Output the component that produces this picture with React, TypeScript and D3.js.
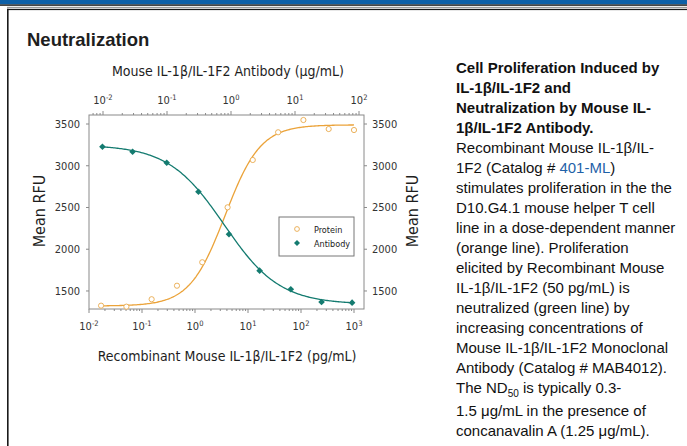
import { useRef, useEffect } from 'react';
import * as d3 from 'd3';

// Protein dose response (bottom axis, pg/mL)
const proteinConc = [0.0169, 0.0508, 0.152, 0.457, 1.37, 4.12, 12.3, 37.0, 111, 333, 1000];
const proteinRfu = [1324, 1312, 1401, 1563, 1844, 2502, 3069, 3401, 3548, 3440, 3428];
// Antibody neutralization (top axis, ug/mL)
const antibodyConc = [0.0098, 0.029, 0.099, 0.31, 0.93, 2.8, 8.6, 26, 78];
const antibodyRfu = [3228, 3168, 3036, 2689, 2179, 1743, 1520, 1368, 1360];

// 4PL fit
const proteinFit = { bottom: 1320, top: 3490, ec50: 3.7, hill: 1.3 };
const antibodyFit = { bottom: 1340, top: 3250, ec50: 0.78, hill: 1.0 };

const yTicks = [1500, 2000, 2500, 3000, 3500];
const topDecades = [-2, -1, 0, 1, 2];
const bottomDecades = [-2, -1, 0, 1, 2, 3];
const legendItems = ['Protein', 'Antibody'];

type Seg = [string, 'b' | 'n' | 'a' | 's'];
const captionLines: Seg[][] = [
  [['Cell Proliferation Induced by', 'b']],
  [['IL-1β/IL-1F2 and', 'b']],
  [['Neutralization by Mouse IL-', 'b']],
  [['1β/IL-1F2 Antibody.', 'b']],
  [['Recombinant Mouse IL-1β/IL-', 'n']],
  [['1F2 (Catalog # ', 'n'], ['401-ML', 'a'], [')', 'n']],
  [['stimulates proliferation in the the', 'n']],
  [['D10.G4.1 mouse helper T cell', 'n']],
  [['line in a dose-dependent manner', 'n']],
  [['(orange line). Proliferation', 'n']],
  [['elicited by Recombinant Mouse', 'n']],
  [['IL-1β/IL-1F2 (50 pg/mL) is', 'n']],
  [['neutralized (green line) by', 'n']],
  [['increasing concentrations of', 'n']],
  [['Mouse IL-1β/IL-1F2 Monoclonal', 'n']],
  [['Antibody (Catalog # MAB4012).', 'n']],
  [['The ND', 'n'], ['50', 's'], [' is typically 0.3-', 'n']],
  [['1.5 μg/mL in the presence of', 'n']],
  [['concanavalin A (1.25 μg/mL).', 'n']],
];

const chartFont = '"DejaVu Sans Condensed", "Liberation Sans Narrow", sans-serif';
const textFont = '"Liberation Sans", Arial, sans-serif';
const orange = '#eba33a';
const green = '#147b70';
const axisGray = '#8a8a8a';

const fourPL = (p: { bottom: number; top: number; ec50: number; hill: number }, rising: boolean) => (x: number) => {
  const r = Math.pow(x / p.ec50, p.hill);
  return rising ? p.bottom + (p.top - p.bottom) * r / (1 + r) : p.bottom + (p.top - p.bottom) / (1 + r);
};

export default function App() {
  const svgRef = useRef<SVGSVGElement>(null);

  useEffect(() => {
    if (!svgRef.current) return;
    const svg = d3.select(svgRef.current);
    svg.selectAll('*').remove();

    const W = 687, H = 446;
    const box = { left: 89, right: 364, top: 115, bottom: 309 };

    // Page frame
    svg.append('rect').attr('width', W).attr('height', H).attr('fill', '#fff');
    svg.append('rect').attr('x', 0).attr('y', 0).attr('width', W).attr('height', 4.4).attr('fill', '#0d60a8');
    svg.append('rect').attr('x', 0).attr('y', 4.4).attr('width', W).attr('height', 1.4).attr('fill', '#1a1a1a');
    svg.append('rect').attr('x', 7).attr('y', 6.8).attr('width', W).attr('height', 1.2).attr('fill', '#9a9a9a');
    svg.append('rect').attr('x', 7).attr('y', 8.8).attr('width', W).attr('height', 1.3).attr('fill', '#1a1a1a');
    svg.append('rect').attr('x', 7).attr('y', 8.8).attr('width', 1.6).attr('height', H).attr('fill', '#1a1a1a');

    svg.append('text')
      .attr('x', 27).attr('y', 46)
      .style('font-family', textFont).style('font-weight', 'bold').style('font-size', '18.5px')
      .attr('fill', '#1e1e1e')
      .text('Neutralization');

    // Scales
    const xBottom = d3.scaleLog().domain([0.01, Math.pow(10, 3 + 10 / 53)]).range([box.left, box.right]);
    const xTop = d3.scaleLog().domain([Math.pow(10, -2 - 14 / 64), Math.pow(10, 2 + 5 / 64)]).range([box.left, box.right]);
    const y = d3.scaleLinear().domain([1284, 3608]).range([box.bottom, box.top]);

    const g = svg.append('g');

    // Box
    g.append('rect')
      .attr('x', box.left).attr('y', box.top)
      .attr('width', box.right - box.left).attr('height', box.bottom - box.top)
      .attr('fill', 'none').attr('stroke', axisGray).attr('stroke-width', 1);

    const isMajor = (t: number) => Math.abs(Math.log10(t) - Math.round(Math.log10(t))) < 1e-6;

    // Log axis ticks
    xTop.ticks().forEach(t => {
      const len = isMajor(t) ? 4 : 2;
      g.append('line').attr('x1', xTop(t)).attr('x2', xTop(t))
        .attr('y1', box.top).attr('y2', box.top - len)
        .attr('stroke', axisGray).attr('stroke-width', 1);
    });
    xBottom.ticks().forEach(t => {
      const len = isMajor(t) ? 4 : 2;
      g.append('line').attr('x1', xBottom(t)).attr('x2', xBottom(t))
        .attr('y1', box.bottom).attr('y2', box.bottom + len)
        .attr('stroke', axisGray).attr('stroke-width', 1);
    });

    const powLabel = (x: number, yy: number, exp: number) => {
      const t = g.append('text')
        .attr('x', x).attr('y', yy).attr('text-anchor', 'middle')
        .style('font-family', chartFont).style('font-size', '11px').attr('fill', '#333');
      t.append('tspan').text('10');
      t.append('tspan').attr('dy', -4.5).style('font-size', '7.5px').text(String(exp));
    };
    topDecades.forEach(d => powLabel(xTop(Math.pow(10, d)), 104, d));
    bottomDecades.forEach(d => powLabel(xBottom(Math.pow(10, d)), 330, d));

    // Linear y ticks both sides
    yTicks.forEach(v => {
      g.append('line').attr('x1', box.left - 3).attr('x2', box.left)
        .attr('y1', y(v)).attr('y2', y(v)).attr('stroke', axisGray);
      g.append('line').attr('x1', box.right).attr('x2', box.right + 3)
        .attr('y1', y(v)).attr('y2', y(v)).attr('stroke', axisGray);
      g.append('text').attr('x', 80).attr('y', y(v) + 4).attr('text-anchor', 'end')
        .style('font-family', chartFont).style('font-size', '11px').attr('fill', '#333').text(v);
      g.append('text').attr('x', 372).attr('y', y(v) + 4).attr('text-anchor', 'start')
        .style('font-family', chartFont).style('font-size', '11px').attr('fill', '#333').text(v);
    });

    // Axis titles
    g.append('text').attr('x', 228).attr('y', 76).attr('text-anchor', 'middle')
      .style('font-family', chartFont).style('font-size', '14px').attr('fill', '#1e1e1e')
      .text('Mouse IL-1β/IL-1F2 Antibody (μg/mL)');
    g.append('text').attr('x', 227).attr('y', 361).attr('text-anchor', 'middle')
      .style('font-family', chartFont).style('font-size', '14px').attr('fill', '#1e1e1e')
      .text('Recombinant Mouse IL-1β/IL-1F2 (pg/mL)');
    [[40, 211], [413, 211]].forEach(([cx, cy]) => {
      g.append('text').attr('transform', `translate(${cx + 5},${cy}) rotate(-90)`)
        .attr('text-anchor', 'middle')
        .style('font-family', chartFont).style('font-size', '16px').attr('fill', '#1e1e1e')
        .text('Mean RFU');
    });

    // Fit curves
    const line = d3.line<[number, number]>().x(d => d[0]).y(d => d[1]);
    const pFn = fourPL(proteinFit, true);
    const aFn = fourPL(antibodyFit, false);
    const pLo = Math.log10(proteinConc[0]), pHi = Math.log10(proteinConc[proteinConc.length - 1]);
    const aLo = Math.log10(antibodyConc[0]), aHi = Math.log10(antibodyConc[antibodyConc.length - 1]);
    const pCurve = d3.range(0, 201).map(i => {
      const c = Math.pow(10, pLo + (pHi - pLo) * i / 200);
      return [xBottom(c), y(pFn(c))] as [number, number];
    });
    const aCurve = d3.range(0, 201).map(i => {
      const c = Math.pow(10, aLo + (aHi - aLo) * i / 200);
      return [xTop(c), y(aFn(c))] as [number, number];
    });
    g.append('path').attr('d', line(pCurve)).attr('fill', 'none').attr('stroke', orange).attr('stroke-width', 1.3);
    g.append('path').attr('d', line(aCurve)).attr('fill', 'none').attr('stroke', green).attr('stroke-width', 1.3);

    // Points
    proteinConc.forEach((c, i) => {
      g.append('circle').attr('cx', xBottom(c)).attr('cy', y(proteinRfu[i])).attr('r', 2.6)
        .attr('fill', '#fff').attr('stroke', '#e9a94c').attr('stroke-width', 0.9);
    });
    const diamond = d3.symbol().type(d3.symbolSquare).size(22);
    antibodyConc.forEach((c, i) => {
      g.append('path').attr('d', diamond())
        .attr('transform', `translate(${xTop(c)},${y(antibodyRfu[i])}) rotate(45)`)
        .attr('fill', green);
    });

    // Legend
    const lg = g.append('g').attr('transform', 'translate(279,217)');
    lg.append('rect').attr('width', 75).attr('height', 39)
      .attr('fill', '#fff').attr('stroke', '#777').attr('stroke-width', 1);
    legendItems.forEach((name, i) => {
      const cy = 12 + i * 14;
      if (i === 0) {
        lg.append('circle').attr('cx', 18).attr('cy', cy).attr('r', 2.4)
          .attr('fill', '#fff').attr('stroke', '#e9a94c').attr('stroke-width', 0.9);
      } else {
        lg.append('path').attr('d', d3.symbol().type(d3.symbolSquare).size(18)())
          .attr('transform', `translate(18,${cy}) rotate(45)`).attr('fill', green);
      }
      lg.append('text').attr('x', 35).attr('y', cy + 3.5)
        .style('font-family', chartFont).style('font-size', '9px')
        .attr('fill', '#222').text(name);
    });

    // Caption
    captionLines.forEach((segs, i) => {
      const base = 73 + 20 * i + (i >= 17 ? 3 : 0);
      const t = svg.append('text').attr('x', 456).attr('y', base)
        .style('font-family', textFont).style('font-size', '15px').attr('fill', '#111');
      let shifted = false;
      segs.forEach(([s, k]) => {
        const ts = t.append('tspan').text(s);
        if (k === 'b') ts.style('font-weight', 'bold');
        if (k === 'a') ts.attr('fill', '#1f62a8');
        if (k === 's') { ts.attr('dy', 4).style('font-size', '10px'); shifted = true; }
        else if (shifted) { ts.attr('dy', -4); shifted = false; }
      });
    });
  }, []);

  return (
    <svg
      ref={svgRef}
      width={687}
      height={446}
      style={{ position: 'absolute', left: 0, top: 0, display: 'block' }}
    />
  );
}
